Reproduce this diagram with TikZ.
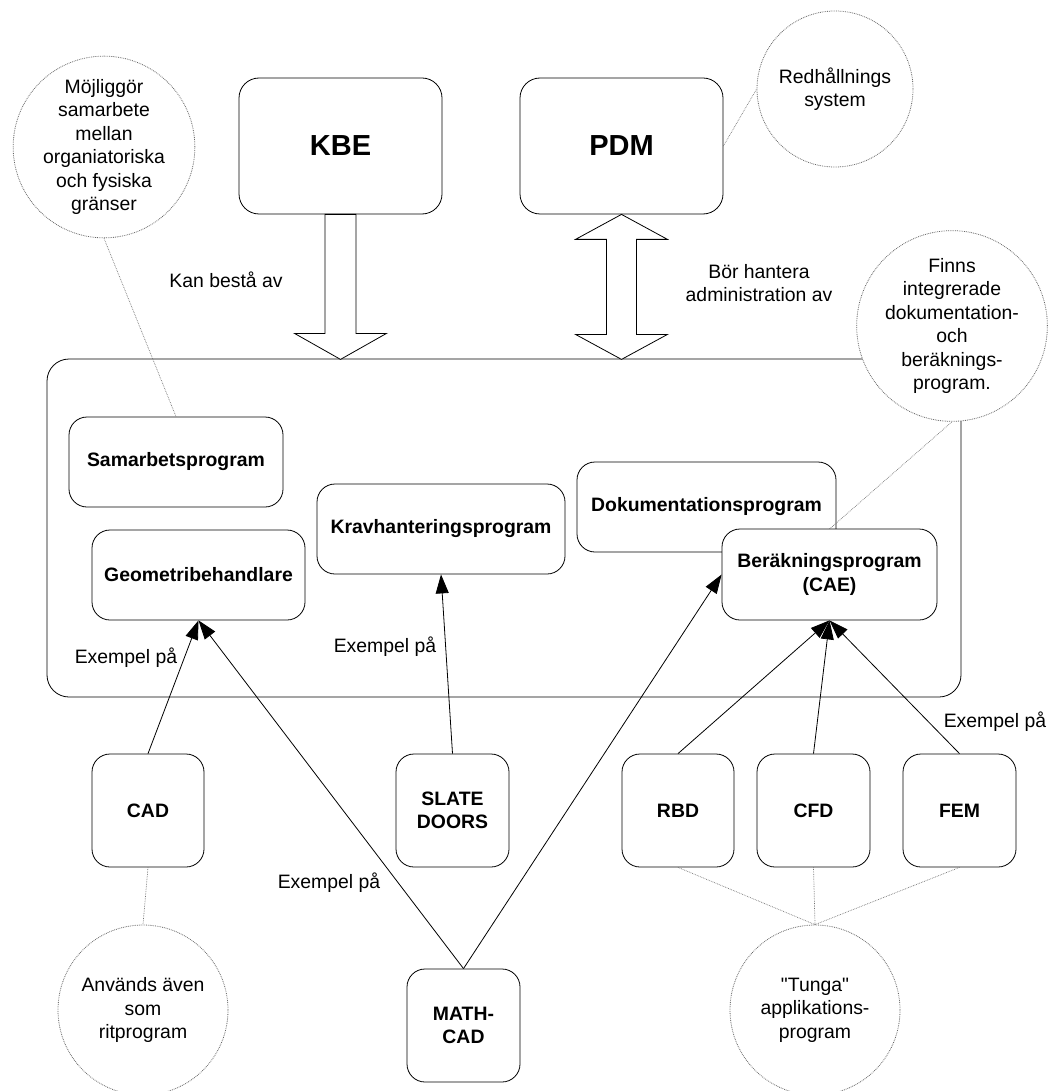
\documentclass[tikz,border=0pt]{standalone}
\usepackage{fontspec}
\setmainfont{Liberation Sans}
\newfontfamily\plainq{Liberation Sans}
\usetikzlibrary{arrows.meta}
\begin{document}
\begin{tikzpicture}[x=1pt,y=-1pt,
  every node/.style={font=\fontsize{19.4}{23.5}\selectfont},
  prog/.style={draw, line width=0.8pt, rounded corners=18pt, fill=white, inner sep=0pt, align=center, font=\fontsize{19.4}{23.5}\selectfont\bfseries},
  bigbox/.style={prog, rounded corners=20pt, font=\fontsize{29}{34}\selectfont\bfseries},
  note/.style={circle, draw=black!60, densely dotted, line width=0.8pt, fill=white, inner sep=0pt, align=center},
  noteline/.style={draw=black!55, densely dotted, line width=0.7pt},
  conn/.style={draw, line width=0.8pt, -{Triangle[length=19pt,width=13pt]}},
  fat/.style={draw, line width=0.8pt, fill=white, line join=miter},
  lbl/.style={align=center, inner sep=0pt}
]
\useasboundingbox (0,0) rectangle (1049,1091);

% container
\node[draw, line width=0.8pt, rounded corners=22pt, minimum width=914pt, minimum height=338pt, inner sep=0pt] (cont) at (504,528) {};
\node[note, minimum size=178pt] (finns) at (952,326) {Finns\\integrerade\\dokumentation-\\och\\beräknings-\\program.};

% top boxes
\node[bigbox, minimum width=203pt, minimum height=136pt] (kbe) at (340.5,146) {KBE};
\node[bigbox, minimum width=203pt, minimum height=136pt] (pdm) at (621.5,146) {PDM};

\draw[fat] (kbe.south) ++(-15.5,0) -- ++(0,119) -- ++(-30.5,0) -- ++(46,26) -- ++(46,-26) -- ++(-30.5,0) -- ++(0,-119) -- cycle;
\draw[fat] (pdm.south) -- ++(46,25) -- ++(-31,0) -- ++(0,95) -- ++(31,0) -- ++(-46,25) -- ++(-46,-25) -- ++(31,0) -- ++(0,-95) -- ++(-31,0) -- cycle;

\node[lbl] (kanlbl) at (226,280) {Kan bestå av};
\node[lbl] (borlbl) at (759,283) {Bör hantera\\administration av};

\node[note, minimum size=156pt] (red) at (835,89) {Redhållnings\\system};
\draw[noteline] (pdm.east) -- (red.west);

\node[note, minimum size=180pt] (moj) at (104,147) {Möjliggör\\samarbete\\mellan\\organiatoriska\\och fysiska\\gränser};

% inner boxes
\node[prog, minimum width=214pt, minimum height=90pt] (sam) at (176,462) {Samarbetsprogram};
\draw[noteline] (moj.south) -- (sam.north);
\node[prog, minimum width=213pt, minimum height=90pt] (geo) at (198.5,575) {Geometribehandlare};
\node[prog, minimum width=248pt, minimum height=90pt] (krav) at (441,529) {Kravhanteringsprogram};
\node[prog, minimum width=259pt, minimum height=90pt] (doc) at (706.5,507) {Dokumentationsprogram};
\draw[noteline] (829.5,529) -- (finns.south);
\node[prog, minimum width=215pt, minimum height=91pt] (ber) at (829.5,574.5) {Beräkningsprogram\\(CAE)};

% bottom boxes
\node[prog, minimum width=112pt, minimum height=113pt] (cad) at (148,810.5) {CAD};
\node[prog, minimum width=113pt, minimum height=113pt] (slate) at (452.5,810.5) {SLATE\\DOORS};
\node[prog, minimum width=112pt, minimum height=113pt] (rbd) at (678,810.5) {RBD};
\node[prog, minimum width=113pt, minimum height=113pt] (cfd) at (813.5,810.5) {CFD};
\node[prog, minimum width=113pt, minimum height=113pt] (fem) at (959.5,810.5) {FEM};
\node[prog, minimum width=113pt, minimum height=113pt] (mcad) at (463.5,1025.5) {MATH-\\CAD};

% arrows
\draw[conn] (cad.north) -- (geo.south);
\draw[conn] (mcad.north) -- (geo.south);
\draw[conn] (slate.north) -- (krav.south);
\draw[conn] (mcad.north) -- (ber.west);
\draw[conn] (rbd.north) -- (ber.south);
\draw[conn] (cfd.north) -- (ber.south);
\draw[conn] (fem.north) -- (ber.south);

\node[lbl] (ex1) at (126,658) {Exempel på};
\node[lbl] (ex2) at (385,647) {Exempel på};
\node[lbl] (ex3) at (329,883) {Exempel på};
\node[lbl] (ex4) at (995,722) {Exempel på};

% bottom notes
\node[note, minimum size=170pt] (anv) at (143,1010) {Används även\\som\\ritprogram};
\draw[noteline] (cad.south) -- (anv.north);
\node[note, minimum size=170pt] (tunga) at (815,1010) {{\plainq"}Tunga{\plainq"}\\applikations-\\program};
\draw[noteline] (rbd.south) -- (tunga.north);
\draw[noteline] (cfd.south) -- (tunga.north);
\draw[noteline] (fem.south) -- (tunga.north);
\end{tikzpicture}
\end{document}
